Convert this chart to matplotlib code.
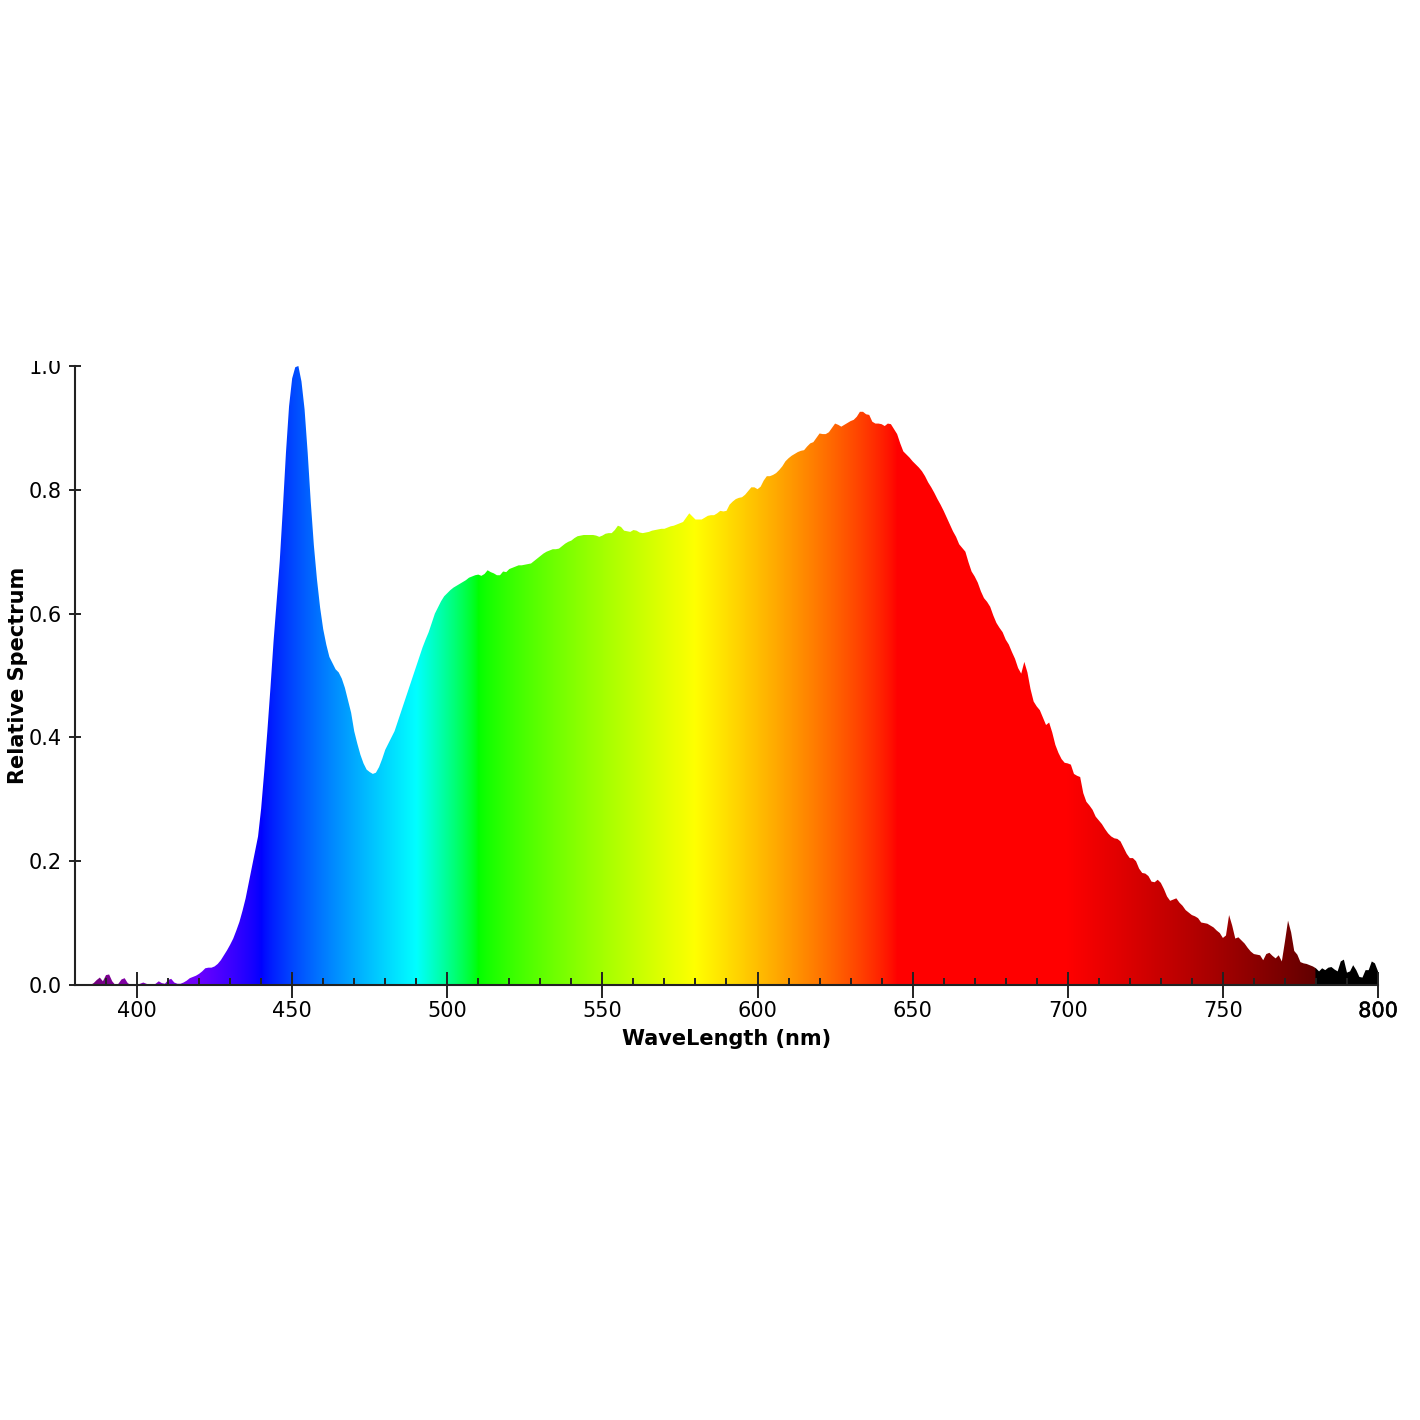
import numpy as np
import matplotlib
matplotlib.use("Agg")
import matplotlib.pyplot as plt
from matplotlib.transforms import Bbox
import matplotlib.patheffects as pe

# ---------------- data ----------------
wavelength = np.arange(380, 801, 1)

spectrum = [
    # 380-399
    0.0, 0.0, 0.0, 0.0, 0.0, 0.0, 0.003, 0.008, 0.012, 0.006,
    0.016, 0.017, 0.006, 0.0, 0.002, 0.009, 0.011, 0.003, 0.0, 0.0,
    # 400-419
    0.0, 0.002, 0.004, 0.002, 0.0, 0.0, 0.002, 0.006, 0.003, 0.002,
    0.008, 0.010, 0.004, 0.002, 0.002, 0.004, 0.007, 0.011, 0.013, 0.015,
    # 420-439
    0.018, 0.022, 0.027, 0.028, 0.028, 0.030, 0.034, 0.040, 0.048, 0.056,
    0.065, 0.075, 0.088, 0.102, 0.120, 0.140, 0.165, 0.190, 0.215, 0.240,
    # 440-459
    0.285, 0.345, 0.410, 0.480, 0.555, 0.620, 0.685, 0.770, 0.860, 0.935,
    0.980, 0.998, 1.000, 0.975, 0.930, 0.860, 0.780, 0.710, 0.655, 0.610,
    # 460-479
    0.575, 0.550, 0.530, 0.520, 0.510, 0.505, 0.495, 0.480, 0.460, 0.440,
    0.410, 0.390, 0.372, 0.358, 0.348, 0.344, 0.341, 0.343, 0.352, 0.365,
    # 480-499
    0.380, 0.390, 0.400, 0.410, 0.425, 0.440, 0.455, 0.470, 0.485, 0.500,
    0.515, 0.530, 0.545, 0.558, 0.570, 0.585, 0.600, 0.610, 0.620, 0.628,
    # 500-519
    0.633, 0.638, 0.642, 0.645, 0.648, 0.651, 0.654, 0.658, 0.660, 0.662,
    0.663, 0.661, 0.664, 0.670, 0.667, 0.665, 0.662, 0.662, 0.668, 0.667,
    # 520-539
    0.672, 0.674, 0.676, 0.678, 0.678, 0.679, 0.680, 0.681, 0.685, 0.689,
    0.693, 0.697, 0.700, 0.702, 0.704, 0.704, 0.705, 0.709, 0.713, 0.716,
    # 540-559
    0.718, 0.722, 0.725, 0.726, 0.727, 0.727, 0.727, 0.727, 0.726, 0.724,
    0.726, 0.729, 0.730, 0.730, 0.735, 0.742, 0.740, 0.734, 0.733, 0.732,
    # 560-579
    0.735, 0.734, 0.731, 0.730, 0.731, 0.732, 0.734, 0.735, 0.736, 0.737,
    0.737, 0.739, 0.741, 0.742, 0.744, 0.746, 0.748, 0.755, 0.762, 0.757,
    # 580-599
    0.752, 0.752, 0.752, 0.755, 0.758, 0.759, 0.759, 0.762, 0.766, 0.765,
    0.766, 0.776, 0.781, 0.785, 0.787, 0.788, 0.792, 0.798, 0.804, 0.804,
    # 600-619
    0.801, 0.805, 0.815, 0.822, 0.822, 0.824, 0.827, 0.832, 0.838, 0.846,
    0.851, 0.855, 0.858, 0.861, 0.863, 0.864, 0.870, 0.875, 0.877, 0.884,
    # 620-639
    0.891, 0.890, 0.890, 0.893, 0.900, 0.907, 0.905, 0.902, 0.905, 0.908,
    0.911, 0.913, 0.918, 0.926, 0.926, 0.922, 0.921, 0.910, 0.907, 0.907,
    # 640-659
    0.906, 0.903, 0.907, 0.906, 0.898, 0.890, 0.875, 0.862, 0.857, 0.852,
    0.846, 0.841, 0.836, 0.830, 0.822, 0.812, 0.804, 0.795, 0.785, 0.776,
    # 660-679
    0.766, 0.755, 0.744, 0.733, 0.724, 0.712, 0.706, 0.700, 0.683, 0.668,
    0.660, 0.650, 0.636, 0.625, 0.619, 0.611, 0.597, 0.585, 0.577, 0.570,
    # 680-699
    0.558, 0.550, 0.538, 0.527, 0.512, 0.503, 0.522, 0.505, 0.478, 0.458,
    0.450, 0.444, 0.432, 0.420, 0.424, 0.408, 0.388, 0.375, 0.365, 0.359,
    # 700-719
    0.358, 0.356, 0.341, 0.338, 0.336, 0.310, 0.296, 0.290, 0.283, 0.272,
    0.266, 0.260, 0.252, 0.245, 0.240, 0.237, 0.236, 0.232, 0.222, 0.212,
    # 720-739
    0.205, 0.205, 0.200, 0.188, 0.181, 0.180, 0.176, 0.167, 0.166, 0.170,
    0.165, 0.155, 0.143, 0.136, 0.138, 0.140, 0.133, 0.128, 0.121, 0.117,
    # 740-759
    0.113, 0.111, 0.108, 0.101, 0.100, 0.099, 0.096, 0.093, 0.088, 0.084,
    0.076, 0.080, 0.113, 0.096, 0.075, 0.077, 0.072, 0.067, 0.060, 0.054,
    # 760-779
    0.050, 0.049, 0.048, 0.040, 0.050, 0.052, 0.047, 0.043, 0.048, 0.038,
    0.070, 0.104, 0.085, 0.055, 0.049, 0.037, 0.035, 0.034, 0.032, 0.030,
    # 780-800
    0.027, 0.022, 0.027, 0.024, 0.028, 0.029, 0.025, 0.022, 0.038, 0.041,
    0.020, 0.022, 0.032, 0.024, 0.013, 0.012, 0.024, 0.024, 0.038, 0.035,
    0.022,
]

x_ticks = [400, 450, 500, 550, 600, 650, 700, 750, 800]
y_ticks = [0.0, 0.2, 0.4, 0.6, 0.8, 1.0]
x_label = "WaveLength (nm)"
y_label = "Relative Spectrum"


# ---------------- colour of a wavelength ----------------
def wavelength_to_rgb(w, gamma=0.8):
    if 380 <= w < 440:
        r, g, b = -(w - 440) / 60.0, 0.0, 1.0
    elif 440 <= w < 490:
        r, g, b = 0.0, (w - 440) / 50.0, 1.0
    elif 490 <= w < 510:
        r, g, b = 0.0, 1.0, -(w - 510) / 20.0
    elif 510 <= w < 580:
        r, g, b = (w - 510) / 70.0, 1.0, 0.0
    elif 580 <= w < 645:
        r, g, b = 1.0, -(w - 645) / 65.0, 0.0
    elif 645 <= w <= 780:
        r, g, b = 1.0, 0.0, 0.0
    else:
        r, g, b = 0.0, 0.0, 0.0
    if 380 <= w < 420:
        f = 0.3 + 0.7 * (w - 380) / 40.0
    elif 420 <= w < 700:
        f = 1.0
    elif 700 <= w < 780:
        f = 0.3 + 0.7 * (780 - w) / 80.0
    else:
        f = 0.0
    return tuple((c * f) ** gamma if c * f > 0 else 0.0 for c in (r, g, b))


# ---------------- figure ----------------
fig = plt.figure(figsize=(14.2, 14.2), dpi=100)
ax = fig.add_axes([75 / 1420, 435 / 1420, (1378 - 75) / 1420, (985 - 366) / 1420])

xmin, xmax = 380, 800
ax.set_xlim(xmin, xmax)
ax.set_ylim(0, 1.0)

poly = ax.fill_between(wavelength, spectrum, 0, color="none", lw=0)

grad_w = np.linspace(xmin, xmax, 2000)
grad = np.array([[wavelength_to_rgb(w) for w in grad_w]])
im = ax.imshow(grad, extent=(xmin, xmax, 0, 1.0), aspect="auto",
               origin="lower", interpolation="bilinear", zorder=1)
im.set_clip_path(poly.get_paths()[0], transform=ax.transData)

# spines
for s in ("top", "right"):
    ax.spines[s].set_visible(False)
spine_col = "#222222"
for s in ("left", "bottom"):
    ax.spines[s].set_color(spine_col)
    ax.spines[s].set_linewidth(1.5)
    ax.spines[s].set_zorder(3)

ax.set_xticks(x_ticks)
ax.set_xticks([m for m in range(390, 800, 10) if m not in x_ticks], minor=True)
ax.set_yticks(y_ticks)
ax.set_yticklabels([f"{v:.1f}" for v in y_ticks])

ax.tick_params(axis="x", which="major", direction="inout", length=19,
               width=1.4, color=spine_col, labelsize=15, pad=2)
ax.tick_params(axis="x", which="minor", direction="in", length=5,
               width=1.4, color=spine_col)
ax.tick_params(axis="y", which="major", direction="inout", length=9,
               width=1.4, color=spine_col, labelsize=15, pad=5)

ax.set_xlabel(x_label, fontsize=15, fontweight="bold", labelpad=5.5)
ax.set_ylabel(y_label, fontsize=15, fontweight="bold", labelpad=0.5)

# the top tick label is cut off in the reference
clip = Bbox([[0, 0], [1420, 1420 - 361]])
for lab in ax.get_yticklabels():
    lab.set_clip_box(clip)
    lab.set_clip_on(True)

# last x label looks slightly heavier in the reference
xl = ax.get_xticklabels()
xl[-1].set_path_effects([pe.withStroke(linewidth=0.35, foreground="black")])

fig.savefig("out.png", dpi=100, facecolor="white")
